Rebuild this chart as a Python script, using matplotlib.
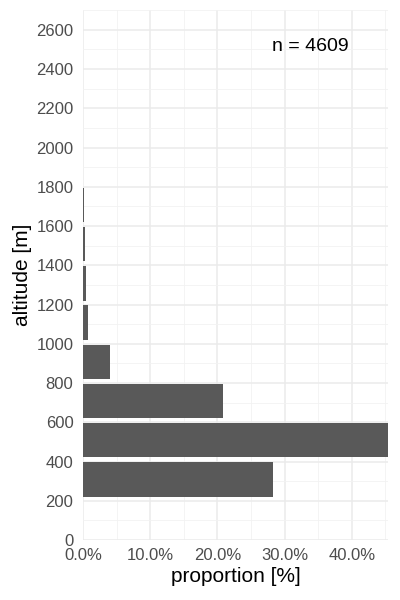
import numpy as np
import matplotlib
matplotlib.use("Agg")
import matplotlib.pyplot as plt
from matplotlib.ticker import MultipleLocator, FuncFormatter

plt.rcParams['font.family'] = ['Liberation Sans', 'DejaVu Sans']

# altitude bins (lower edge, m) and share of observations (%)
bin_start = [200, 400, 600, 800, 1000, 1200, 1400, 1600, 1800, 2000, 2200]
proportion = [28.2, 45.4, 20.8, 3.97, 0.65, 0.35, 0.2, 0.1, 0.04, 0.04, 0.02]
n_obs = 4609

fig = plt.figure(figsize=(4, 6), dpi=100)
ax = fig.add_axes([0.208, 0.1, 0.762, 0.883])

centers = np.array(bin_start) + 108
ax.barh(centers, proportion, height=175, color='#595959', zorder=3)

ax.set_xlim(0, max(proportion))
ax.set_ylim(0, 2700)
ax.xaxis.set_major_locator(MultipleLocator(10))
ax.xaxis.set_minor_locator(MultipleLocator(5))
ax.yaxis.set_major_locator(MultipleLocator(200))
ax.yaxis.set_minor_locator(MultipleLocator(100))
ax.xaxis.set_major_formatter(FuncFormatter(lambda v, p: "%.1f%%" % v))

ax.grid(which='major', color='#EBEBEB', linewidth=1.1, zorder=0)
ax.grid(which='minor', color='#F2F2F2', linewidth=0.6, zorder=0)
for s in ax.spines.values():
    s.set_visible(False)
ax.tick_params(which='both', length=0, labelsize=12, labelcolor='#4D4D4D')
ax.tick_params(axis='y', pad=7)
ax.tick_params(axis='x', pad=6)

ax.set_xlabel("proportion [%]", fontsize=15, labelpad=3)
ax.set_ylabel("altitude [m]", fontsize=15, labelpad=3)

ax.text(33.8, 2515, "n = %d" % n_obs, fontsize=14, ha='center', va='center', zorder=4)

fig.savefig("out.png", dpi=100)
